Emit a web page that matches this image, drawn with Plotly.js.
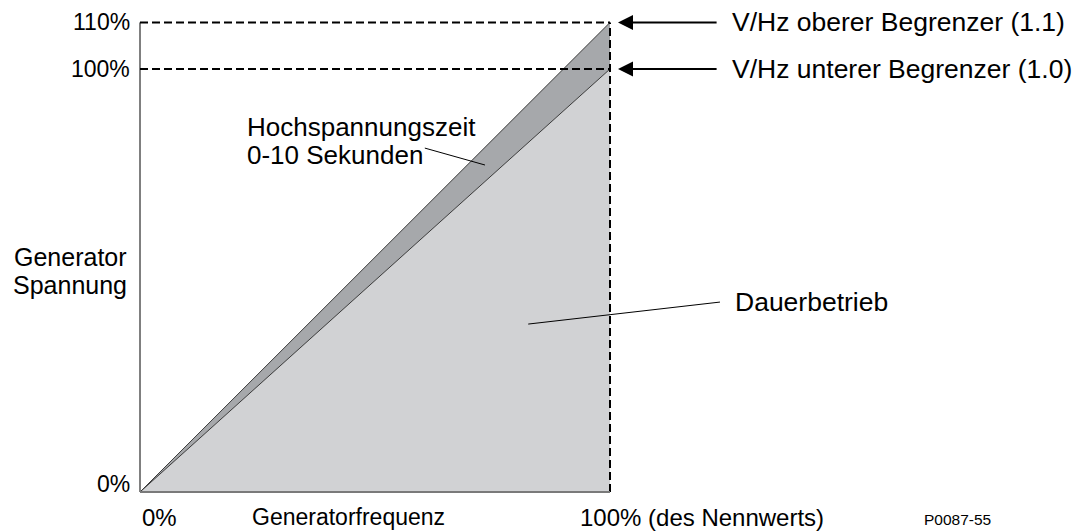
<!DOCTYPE html>
<html>
<head>
<meta charset="utf-8">
<script src="https://cdn.plot.ly/plotly-3.0.1.min.js"></script>
<style>html,body{margin:0;padding:0;background:#fff;}#chart{width:1081px;height:531px;}</style>
</head>
<body>
<div id="chart"></div>
<script>
// ---- data ----
const freqPct = [0, 100];                 // generator frequency, % of rated
const lowerLimiterV = [0, 100];           // V/Hz lower limiter (1.0)
const upperLimiterV = [0, 111];           // V/Hz upper limiter (1.1), as drawn
const levelLower = 100;
const levelUpper = 111;
const yTickVals = [2, 100, 111];
const yTickText = ['0%', '100%', '110%'];
const xLabelVals = [0, 23.4, 93.2];
const xLabelText = ['0%', 'Generatorfrequenz', '100% (des Nennwerts)'];
const limiterLabels = ['V/Hz oberer Begrenzer (1.1)', 'V/Hz unterer Begrenzer (1.0)'];
const limiterLevels = [levelUpper, levelLower];
const bandLines = ['Hochspannungszeit', '0-10 Sekunden'];
const bandLineY = [86.4, 79.6];
const contLabel = 'Dauerbetrieb';
const yTitleLines = ['Generator', 'Spannung'];
const yTitleLineY = [55.6, 49.0];
const figCode = 'P0087-55';
const leaderBandX = [60.6, 73.4], leaderBandY = [81.3, 77.3];
const leaderContX = [82.6, 123.4], leaderContY = [39.7, 44.9];

const FONT = 'Liberation Sans, Arial, sans-serif';
const f = (s) => ({family: FONT, size: s, color: '#000'});

const traces = [
  {x: freqPct.concat([freqPct[1], freqPct[0]]), y: lowerLimiterV.concat([0, 0]), fill: 'toself',
   fillcolor: '#d1d2d4', line: {width: 0}, mode: 'lines', hoverinfo: 'skip'},
  {x: freqPct.concat([freqPct[1], freqPct[0]]), y: upperLimiterV.concat([lowerLimiterV[1], lowerLimiterV[0]]), fill: 'toself',
   fillcolor: '#a6a8ab', line: {width: 0}, mode: 'lines', hoverinfo: 'skip'},
  {x: freqPct, y: lowerLimiterV, mode: 'lines', line: {color: '#3a3a3a', width: 1}},
  {x: freqPct, y: upperLimiterV, mode: 'lines', line: {color: '#3a3a3a', width: 1}},
  {x: freqPct, y: [levelUpper, levelUpper], mode: 'lines', line: {color: '#000', width: 2, dash: '8px,4px'}},
  {x: freqPct, y: [levelLower, levelLower], mode: 'lines', line: {color: '#000', width: 2, dash: '8px,4px'}},
  {x: [freqPct[1], freqPct[1]], y: [0, levelUpper], mode: 'lines', line: {color: '#000', width: 2, dash: '8px,4px'}},
  {x: [0, 0], y: [0, levelUpper], mode: 'lines', line: {color: '#000', width: 1}},
  {x: freqPct, y: [0, 0], mode: 'lines', line: {color: '#7a7a7a', width: 2}},
  {x: leaderBandX, y: leaderBandY, mode: 'lines', line: {color: '#000', width: 1}},
  {x: leaderContX, y: leaderContY, mode: 'lines', line: {color: '#000', width: 1}}
];

const ann = [];
yTickVals.forEach((v, i) => ann.push({x: -1.7, y: v, xref: 'x', yref: 'y', text: yTickText[i], showarrow: false,
  xanchor: 'right', yanchor: 'middle', font: f(23)}));
const xSizes = [24, 23, 24];
xLabelVals.forEach((v, i) => ann.push({x: v, y: -6.0, xref: 'x', yref: 'y', text: xLabelText[i], showarrow: false,
  xanchor: 'left', yanchor: 'middle', font: f(xSizes[i])}));
limiterLevels.forEach((v, i) => {
  ann.push({x: 101.7, y: v, xref: 'x', yref: 'y', ax: 123, ay: v, axref: 'x', ayref: 'y', text: '',
    showarrow: true, arrowhead: 2, arrowsize: 1.5, arrowwidth: 2, arrowcolor: '#000'});
  ann.push({x: 125.5, y: v, xref: 'x', yref: 'y', text: limiterLabels[i], showarrow: false,
    xanchor: 'left', yanchor: 'middle', font: f(26.5)});
});
bandLines.forEach((t, i) => ann.push({x: 22.3, y: bandLineY[i], xref: 'x', yref: 'y', text: t, showarrow: false,
  xanchor: 'left', yanchor: 'middle', font: f(26)}));
ann.push({x: 126.2, y: 44.9, xref: 'x', yref: 'y', text: contLabel, showarrow: false,
  xanchor: 'left', yanchor: 'middle', font: f(26.5)});
yTitleLines.forEach((t, i) => ann.push({x: -14.8, y: yTitleLineY[i], xref: 'x', yref: 'y', text: t, showarrow: false,
  xanchor: 'center', yanchor: 'middle', font: f(25)}));
ann.push({x: 181.5, y: -6.4, xref: 'x', yref: 'y', text: figCode, showarrow: false,
  xanchor: 'right', yanchor: 'middle', font: f(15.5)});

const layout = {
  width: 1081, height: 531,
  margin: {l: 0, r: 0, t: 0, b: 0},
  paper_bgcolor: '#fff', plot_bgcolor: '#fff',
  showlegend: false,
  xaxis: {range: [-29.787, 200.213], visible: false, fixedrange: true},
  yaxis: {range: [-9.22, 116.31], visible: false, fixedrange: true},
  annotations: ann
};
Plotly.newPlot('chart', traces, layout, {staticPlot: true, displayModeBar: false});
</script>
</body>
</html>
